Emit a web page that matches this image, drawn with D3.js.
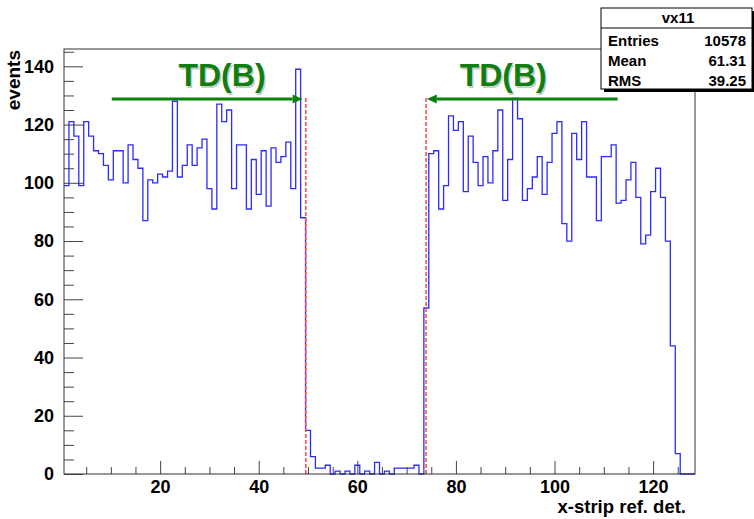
<!DOCTYPE html>
<html>
<head>
<meta charset="utf-8">
<script src="https://cdn.jsdelivr.net/npm/d3@7"></script>
<style>
  html, body { margin: 0; padding: 0; background: #fff; }
  svg { display: block; }
  text { font-family: "Liberation Sans", Arial, Helvetica, sans-serif; }
</style>
</head>
<body>
<svg id="chart" width="754" height="519"></svg>
<script>
// ---------------- data ----------------
// events per x-strip (strips 1..49)
const countsLeft = [99,121,116,99,121,116,111,110,106,101,111,111,100,113,108,105,87,101,100,103,
                    102,104,128,102,106,113,106,112,115,98,91,127,121,125,98,113,113,91,108,96,
                    111,92,112,107,109,114,98,139,88];
// strips 50..74 (dead region)
const countsGap = [15,6,2,2,3,0,1,0,1,0,3,0,1,0,4,0,1,0,2,2,2,2,3,0,57];
// strips 75..128
const countsRight = [110,111,91,99,123,118,121,97,116,107,99,109,100,111,125,94,108,129,122,94,
                     98,102,109,96,107,117,121,86,80,117,108,121,102,102,87,109,109,113,93,94,
                     101,107,95,79,82,97,105,95,80,44,7,0,0,0];
const counts = countsLeft.concat(countsGap, countsRight);

const xDomain = [0.5, 128.5];
const yDomain = [0, 145.95];
const xMajorTicks = [20, 40, 60, 80, 100, 120];
const xMinorTicks = d3.range(5, 128, 5).filter(v => v % 20 !== 0);
const yMajorTicks = [0, 20, 40, 60, 80, 100, 120, 140];
const yMinorTicks = d3.range(5, 146, 5).filter(v => v % 20 !== 0);

// annotations (data units)
const tdLines = [49.55, 73.95];        // red dashed markers
const tdLineTop = 129.5;
const arrows = [ {from: 10.2, to: 48.9, y: 128.8}, {from: 112.8, to: 74.1, y: 128.8} ];
const tdLabels = [ {x: 32.55, y: 133.2, text: "TD(B)"}, {x: 89.6, y: 133.2, text: "TD(B)"} ];

const stats = { title: "vx11", rows: [["Entries", "10578"], ["Mean", "61.31"], ["RMS", "39.25"]] };

// ---------------- layout ----------------
const L = 64, R = 695, T = 49, B = 474;
const svg = d3.select("#chart");
svg.append("rect").attr("width", 754).attr("height", 519).attr("fill", "#fff");

const x = d3.scaleLinear().domain(xDomain).range([L, R]);
const y = d3.scaleLinear().domain(yDomain).range([B, T]);

// ---------------- histogram ----------------
const pts = counts.map((c, i) => [i + 0.5, c]);
pts.push([xDomain[1], counts[counts.length - 1]]);
const line = d3.line().x(d => x(d[0])).y(d => y(d[1])).curve(d3.curveStepAfter);
svg.append("path").attr("d", line(pts))
  .attr("fill", "none").attr("stroke", "#2b2bff").attr("stroke-width", 1.3);

// ---------------- red dashed markers ----------------
svg.selectAll("line.td").data(tdLines).enter().append("line")
  .attr("x1", d => x(d)).attr("x2", d => x(d))
  .attr("y1", y(0)).attr("y2", y(tdLineTop))
  .attr("stroke", "#ff4d4d").attr("stroke-width", 1.6).attr("stroke-dasharray", "4,2");

// ---------------- axes ----------------
const tickColor = "#444";
function styleAxis(g) {
  g.select(".domain").remove();
  g.selectAll(".tick line").attr("stroke", tickColor);
  g.selectAll(".tick text").attr("font-size", 18).attr("font-weight", "bold")
    .attr("fill", "#000").attr("font-family", "Liberation Sans, Arial, sans-serif");
}
svg.append("g").attr("transform", `translate(0,${B})`)
  .call(d3.axisBottom(x).tickValues(xMinorTicks).tickSize(-7).tickFormat(""))
  .call(styleAxis);
svg.append("g").attr("transform", `translate(0,${B})`)
  .call(d3.axisBottom(x).tickValues(xMajorTicks).tickSize(-13).tickPadding(6).tickFormat(d3.format("d")))
  .call(styleAxis);
svg.append("g").attr("transform", `translate(${L},0)`)
  .call(d3.axisLeft(y).tickValues(yMinorTicks).tickSize(-10).tickFormat(""))
  .call(styleAxis);
svg.append("g").attr("transform", `translate(${L},0)`)
  .call(d3.axisLeft(y).tickValues(yMajorTicks).tickSize(-19).tickPadding(10).tickFormat(d3.format("d")))
  .call(styleAxis);

// frame
svg.append("rect").attr("x", L).attr("y", T).attr("width", R - L).attr("height", B - T)
  .attr("fill", "none").attr("stroke", "#333").attr("stroke-width", 1);

// axis titles
svg.append("text").attr("x", 686).attr("y", 513).attr("text-anchor", "end")
  .attr("font-size", 18.5).attr("font-weight", "bold").text("x-strip ref. det.");
svg.append("text").attr("transform", "translate(20,50) rotate(-90)").attr("text-anchor", "end")
  .attr("font-size", 19).attr("font-weight", "bold").text("events");

// ---------------- green arrows + labels ----------------
const green = "#0b800b";
arrows.forEach(a => {
  const x1 = x(a.from), x2 = x(a.to), yy = y(a.y);
  const dir = Math.sign(x2 - x1);
  const hl = 10, hw = 4.5;
  svg.append("line").attr("x1", x1).attr("x2", x2 - dir * hl).attr("y1", yy).attr("y2", yy)
    .attr("stroke", green).attr("stroke-width", 3);
  svg.append("path")
    .attr("d", `M${x2},${yy} L${x2 - dir * hl},${yy - hw} L${x2 - dir * hl},${yy + hw} Z`)
    .attr("fill", green);
});
tdLabels.forEach(t => {
  svg.append("text").attr("x", x(t.x) + 1.5).attr("y", y(t.y) + 1.5).attr("text-anchor", "middle")
    .attr("font-size", 32).attr("font-weight", "bold").attr("fill", "#999").attr("opacity", 0.5)
    .text(t.text);
  svg.append("text").attr("x", x(t.x)).attr("y", y(t.y)).attr("text-anchor", "middle")
    .attr("font-size", 32).attr("font-weight", "bold").attr("fill", "#0f7f0f")
    .text(t.text);
});

// ---------------- stats box ----------------
const bx = 601, by = 8, bw = 151, bh = 81;
svg.append("rect").attr("x", bx + 3).attr("y", by + 3).attr("width", bw).attr("height", bh).attr("fill", "#000");
svg.append("rect").attr("x", bx).attr("y", by).attr("width", bw).attr("height", bh)
  .attr("fill", "#fff").attr("stroke", "#000").attr("stroke-width", 1);
svg.append("line").attr("x1", bx).attr("x2", bx + bw).attr("y1", 28).attr("y2", 28)
  .attr("stroke", "#000").attr("stroke-width", 1);
svg.append("text").attr("x", 678).attr("y", 23).attr("text-anchor", "middle")
  .attr("font-size", 15).attr("font-weight", "bold").text(stats.title);
stats.rows.forEach((r, i) => {
  const yy = 46 + i * 20;
  svg.append("text").attr("x", 608).attr("y", yy).attr("font-size", 15).attr("font-weight", "bold").text(r[0]);
  svg.append("text").attr("x", 746).attr("y", yy).attr("text-anchor", "end")
    .attr("font-size", 15).attr("font-weight", "bold").text(r[1]);
});
</script>
</body>
</html>
